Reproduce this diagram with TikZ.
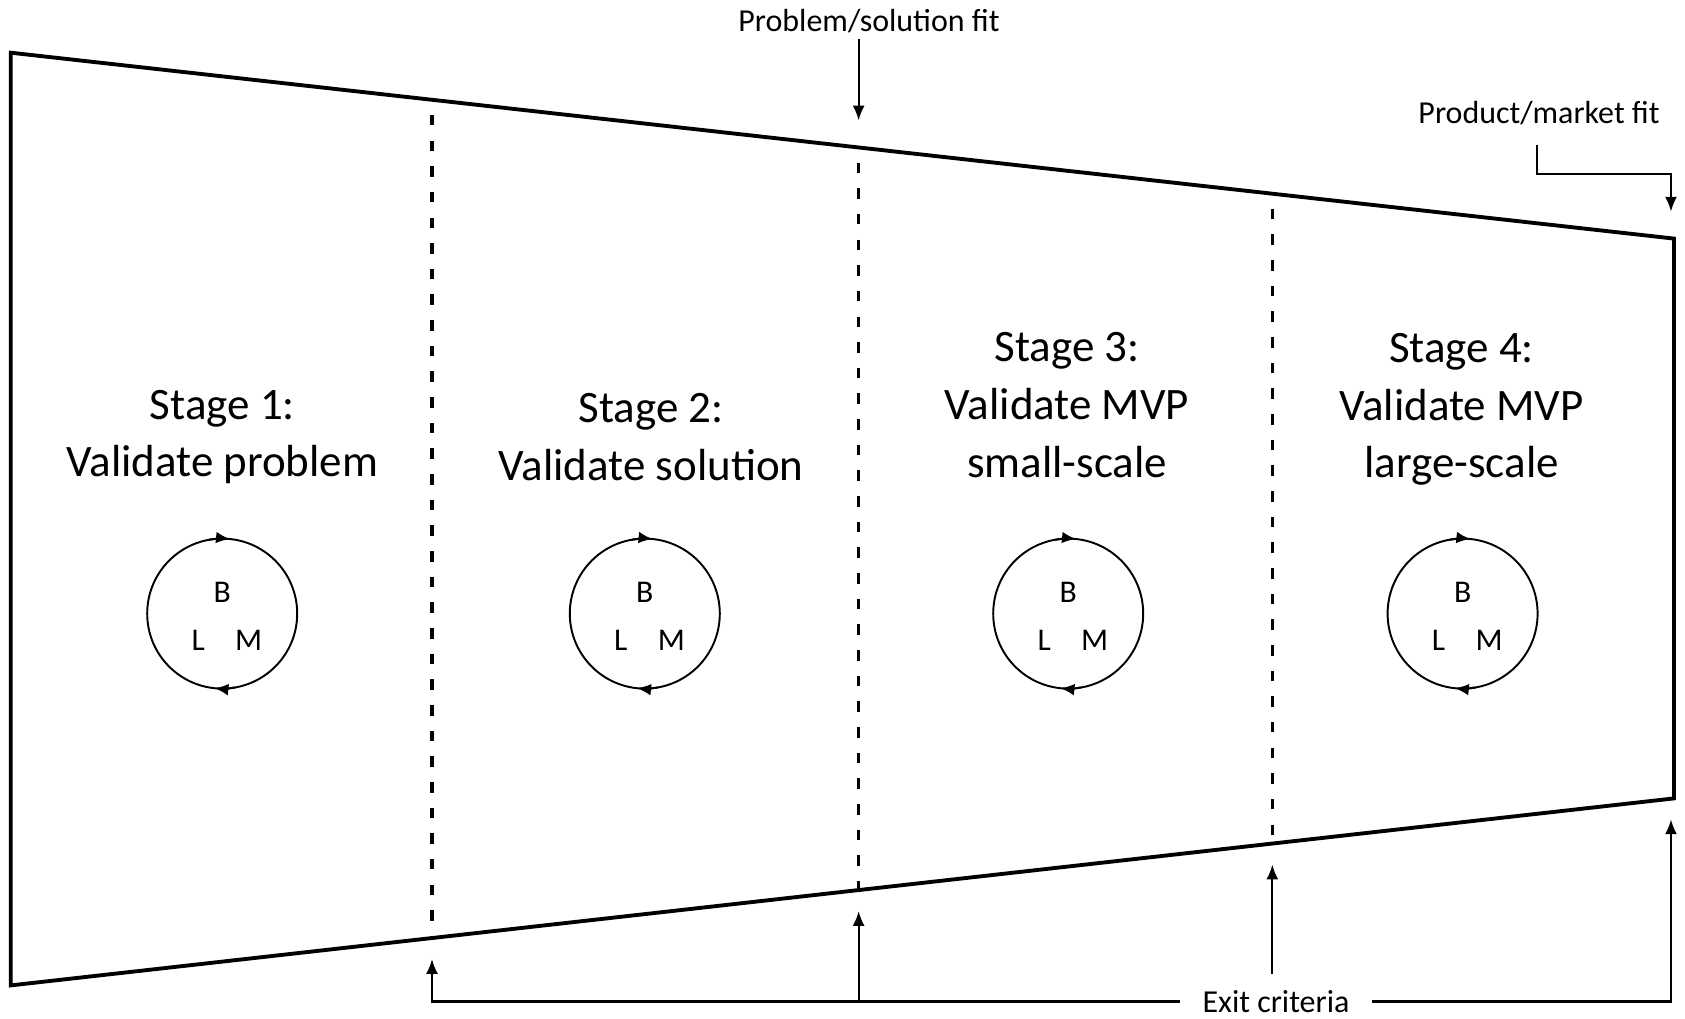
\documentclass[tikz,border=0pt]{standalone}
\usepackage{fontspec}
\setmainfont{Carlito}
\usetikzlibrary{positioning,arrows.meta,calc}

\begin{document}
\begin{tikzpicture}[
			stage/.style={
				align=center,
				inner sep=0pt,
				font=\fontsize{12.8}{16.4}\selectfont
			},
			fitlabel/.style={inner sep=1.5pt,font=\fontsize{9.1}{11}\selectfont},
			bml/.style={draw,circle,line width=0.55pt,minimum size=1.5cm,inner sep=0pt,outer sep=0pt},
			letter/.style={inner sep=0pt,font=\fontsize{9}{11}\selectfont},
			arrow/.style={-{Latex[length=4.2pt,width=3.4pt]},line width=0.6pt},
			looparrow/.style={-{Latex[length=4pt,width=3.3pt]},line width=0.55pt},
			funnel/.style={line width=1.1pt,line join=miter},
			divider/.style={line width=0.9pt,dash pattern=on 3pt off 4.3pt,dash phase=3pt}
			]
			
			\useasboundingbox (0,0) rectangle (16.85,10.18);
			
			% outline of the funnel
			\coordinate (tl) at (0.107,9.653);
			\coordinate (tr) at (16.74,7.794);
			\coordinate (br) at (16.74,2.196);
			\coordinate (bl) at (0.107,0.326);
			\draw[funnel] (tl) -- (tr) -- (br) -- (bl) -- cycle;
			
			% stage borders
			\coordinate (d1top) at ($(tl)!0.2533!(tr)$);
			\coordinate (d2top) at ($(tl)!0.5098!(tr)$);
			\coordinate (d3top) at ($(tl)!0.7585!(tr)$);
			\coordinate (d1bot) at ($(bl)!0.2533!(br)$);
			\coordinate (d2bot) at ($(bl)!0.5098!(br)$);
			\coordinate (d3bot) at ($(bl)!0.7585!(br)$);
			\draw[divider] (d1top) -- (d1bot);
			\draw[divider] (d2top) -- (d2bot);
			\draw[divider] (d3top) -- (d3bot);
			
			\node[stage] (stage1) at (2.224,5.811) {Stage 1:\\ Validate problem};
			\node[stage] (stage2) at (6.512,5.811) {Stage 2:\\ Validate solution};
			\node[stage] (stage3) at (10.671,6.13) {Stage 3:\\ Validate MVP\\ small-scale};
			\node[stage] (stage4) at (14.615,6.086) {Stage 4:\\ Validate MVP\\ large-scale};
			
			% build-measure-learn loops
			\node[bml] (loop1) at (2.222,4.044) {};
			\node[letter] (b1) at ($(loop1)+(0,0.21)$) {B};
			\node[letter] (l1) at ($(loop1)+(-0.24,-0.27)$) {L};
			\node[letter] (m1) at ($(loop1)+(0.265,-0.27)$) {M};
			\draw[looparrow] (loop1.100) arc (100:84:0.75);
			\draw[looparrow] (loop1.-80) arc (-80:-96:0.75);
			
			\node[bml] (loop2) at (6.448,4.044) {};
			\node[letter] (b2) at ($(loop2)+(0,0.21)$) {B};
			\node[letter] (l2) at ($(loop2)+(-0.24,-0.27)$) {L};
			\node[letter] (m2) at ($(loop2)+(0.265,-0.27)$) {M};
			\draw[looparrow] (loop2.100) arc (100:84:0.75);
			\draw[looparrow] (loop2.-80) arc (-80:-96:0.75);
			
			\node[bml] (loop3) at (10.682,4.044) {};
			\node[letter] (b3) at ($(loop3)+(0,0.21)$) {B};
			\node[letter] (l3) at ($(loop3)+(-0.24,-0.27)$) {L};
			\node[letter] (m3) at ($(loop3)+(0.265,-0.27)$) {M};
			\draw[looparrow] (loop3.100) arc (100:84:0.75);
			\draw[looparrow] (loop3.-80) arc (-80:-96:0.75);
			
			\node[bml] (loop4) at (14.626,4.044) {};
			\node[letter] (b4) at ($(loop4)+(0,0.21)$) {B};
			\node[letter] (l4) at ($(loop4)+(-0.24,-0.27)$) {L};
			\node[letter] (m4) at ($(loop4)+(0.265,-0.27)$) {M};
			\draw[looparrow] (loop4.100) arc (100:84:0.75);
			\draw[looparrow] (loop4.-80) arc (-80:-96:0.75);
			
			% fit milestones on top
			\node[fitlabel] (psfit) at (8.69,9.965) {Problem/solution fit};
			\draw[arrow] (psfit.south -| d2top) -- ([yshift=0.27cm]d2top);
			
			\node[fitlabel] (pmfit) at (15.39,9.05) {Product/market fit};
			\coordinate (pmtip) at ($(tr)+(-0.03,0.27)$);
			\coordinate (pmbend) at ($(tr)+(-0.03,0.643)$);
			\draw[arrow] ([yshift=-4pt]pmfit.south -| 15.367,0) |- (pmbend) -- (pmtip);
			
			% exit criteria below
			\node[fitlabel,inner xsep=6.3pt,inner ysep=4.6pt] (exit) at (12.76,0.165) {Exit criteria};
			\coordinate (exittip) at ($(br)+(-0.03,-0.21)$);
			\draw[arrow] (exit.west) -- (exit.west -| d1bot) -- ([yshift=-0.21cm]d1bot);
			\draw[arrow] (exit.west -| d2bot) -- ([yshift=-0.21cm]d2bot);
			\draw[arrow] (exit.north -| d3bot) -- ([yshift=-0.21cm]d3bot);
			\draw[arrow] (exit.east) -- (exit.east -| exittip) -- (exittip);
			
		\end{tikzpicture}
\end{document}
